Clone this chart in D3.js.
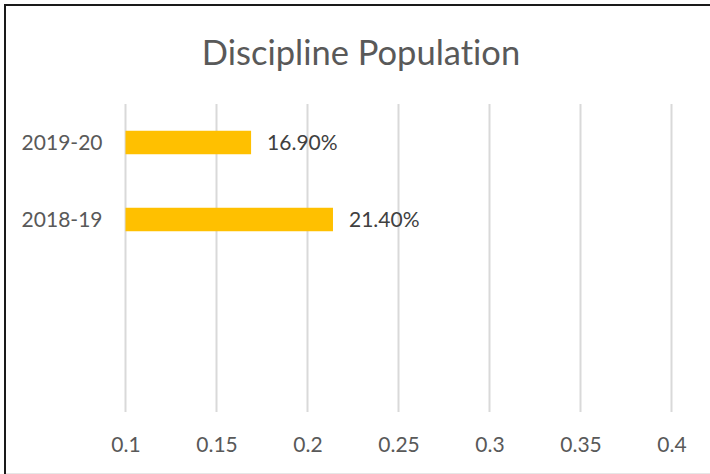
<!DOCTYPE html>
<html>
<head>
<meta charset="utf-8">
<script src="https://cdn.jsdelivr.net/npm/d3@7"></script>
<style>
  html, body { margin: 0; padding: 0; background: #fff; }
  svg { display: block; }
  text { font-family: Lato, "Open Sans", sans-serif; font-variant-ligatures: none; font-feature-settings: "liga" 0, "dlig" 0; }
</style>
</head>
<body>
<script>
// ---- data ----
const title = "Discipline Population";
const categories = ["2019-20", "2018-19", "", ""];
const values = [0.169, 0.214];
const xTicks = [0.1, 0.15, 0.2, 0.25, 0.3, 0.35, 0.4];
const xTickLabels = ["0.1", "0.15", "0.2", "0.25", "0.3", "0.35", "0.4"];
const xDomain = [0.1, 0.4];

// ---- layout ----
const W = 710, H = 474;
const plot = { left: 125.5, right: 671.5, top: 104, bottom: 412 };
const textColor = "#595959";

const svg = d3.select("body").append("svg").attr("width", W).attr("height", H);

// chart border
svg.append("line").attr("x1", 5).attr("x2", 5).attr("y1", 5).attr("y2", H)
  .attr("stroke", "#1a1a1a").attr("stroke-width", 2);
svg.append("line").attr("x1", 4).attr("x2", W).attr("y1", 5).attr("y2", 5)
  .attr("stroke", "#1a1a1a").attr("stroke-width", 2);
svg.append("line").attr("x1", 6).attr("x2", W).attr("y1", 473.5).attr("y2", 473.5)
  .attr("stroke", "#e6e6e6").attr("stroke-width", 1);

const x = d3.scaleLinear().domain(xDomain).range([plot.left, plot.right]);
const y = d3.scaleBand().domain(d3.range(categories.length))
  .range([plot.top, plot.bottom]).paddingInner(0.695).paddingOuter(0.3475);

// title
svg.append("text").attr("x", 361).attr("y", 65)
  .attr("text-anchor", "middle").attr("fill", textColor)
  .style("font-size", "34.5px").text(title);

// gridlines
svg.append("g").selectAll("line").data(xTicks).join("line")
  .attr("x1", d => x(d)).attr("x2", d => x(d))
  .attr("y1", plot.top).attr("y2", plot.bottom)
  .attr("stroke", "#d9d9d9").attr("stroke-width", 2);

// x axis labels
const xAxis = d3.axisBottom(x).tickValues(xTicks)
  .tickFormat((d, i) => xTickLabels[i]).tickSize(0).tickPadding(0);
const gx = svg.append("g").attr("transform", `translate(0,${plot.bottom})`).call(xAxis);
gx.select(".domain").remove();
gx.selectAll("text").attr("fill", textColor).attr("dy", null).attr("y", 39.5)
  .style("font-size", "21px").style("font-family", "Lato, 'Open Sans', sans-serif");

// y axis labels
const yAxis = d3.axisLeft(y).tickFormat(i => categories[i]).tickSize(0).tickPadding(23);
const gy = svg.append("g").attr("transform", `translate(${plot.left},0)`).call(yAxis);
gy.select(".domain").remove();
gy.selectAll("text").attr("fill", textColor).attr("dy", "0.36em")
  .style("font-size", "21px").style("font-family", "Lato, 'Open Sans', sans-serif");

// bars
svg.append("g").selectAll("rect").data(values).join("rect")
  .attr("x", x(xDomain[0]))
  .attr("y", (d, i) => y(i))
  .attr("width", d => x(d) - x(xDomain[0]))
  .attr("height", y.bandwidth())
  .attr("fill", "#ffc000");

// data labels
const pct = d3.format(".2%");
svg.append("g").selectAll("text").data(values).join("text")
  .attr("x", d => x(d) + 16)
  .attr("y", (d, i) => y(i) + y.bandwidth() / 2)
  .attr("dy", "0.36em")
  .attr("fill", "#404040")
  .style("font-size", "21px")
  .text(d => pct(d));
</script>
</body>
</html>
